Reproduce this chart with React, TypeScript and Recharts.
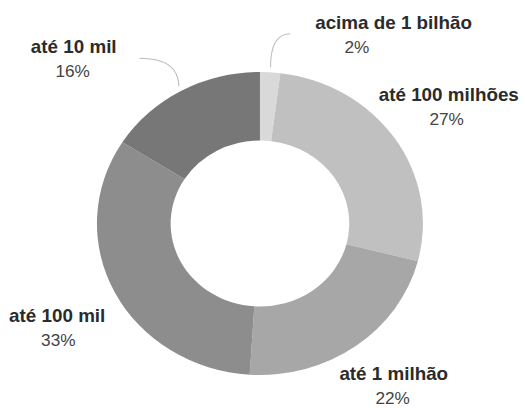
import React from 'react';
import { PieChart, Pie, Cell } from 'recharts';

// faixas de valor e participação (%)
const categories = ['acima de 1 bilhão', 'até 100 milhões', 'até 1 milhão', 'até 100 mil', 'até 10 mil'];
const shares = [2, 27, 22, 33, 16];
const colors = ['#d9d9d9', '#c0c0c0', '#a7a7a7', '#8d8d8d', '#777777'];

// posição dos rótulos: desvio angular (graus), distância do centro, deslocamento do nome
const labelLayout = [
  { shift: 23.5, dist: 198, nameDx: 34, line: true },
  { shift: 3.4, dist: 202, nameDx: 2, line: false },
  { shift: 0.9, dist: 214.5, nameDx: 1, line: false },
  { shift: -5, dist: 221, nameDx: -1, line: false },
  { shift: -20.1, dist: 231, nameDx: 1, line: true },
];

const data = categories.map((name, i) => ({ name, value: shares[i] }));

const FONT = '"Liberation Sans", Arial, sans-serif';
// a imagem original é levemente esticada na horizontal
const STRETCH = 1.076;
const W = 525 / STRETCH;

const polar = (cx: number, cy: number, r: number, clockDeg: number) => {
  const rad = (clockDeg * Math.PI) / 180;
  return { x: cx + r * Math.sin(rad), y: cy - r * Math.cos(rad) };
};

const renderLabel = (props: any) => {
  const { cx, cy, midAngle, index } = props;
  const lay = labelLayout[index];
  const p = polar(cx, cy, lay.dist, 90 - midAngle + lay.shift);
  return (
    <g>
      <text
        x={p.x + lay.nameDx}
        y={p.y - 24.5}
        textAnchor="middle"
        dominantBaseline="central"
        fill="#2b2b2b"
        fontFamily={FONT}
        fontWeight="bold"
        fontSize={17.5}
      >
        {categories[index]}
      </text>
      <text
        x={p.x}
        y={p.y}
        textAnchor="middle"
        dominantBaseline="central"
        fill="#444"
        fontFamily={FONT}
        fontSize={16}
      >
        {`${shares[index]}%`}
      </text>
    </g>
  );
};

const renderLine = (props: any) => {
  const { cx, cy, midAngle, outerRadius, index } = props;
  const lay = labelLayout[index];
  if (!lay.line) return <g />;
  const start = polar(cx, cy, outerRadius + 5, 90 - midAngle);
  const lab = polar(cx, cy, lay.dist, 90 - midAngle + lay.shift);
  const end = { x: lab.x + (lay.shift > 0 ? -62 : 62), y: lab.y - 13.5 };
  return (
    <path
      d={`M${start.x},${start.y} Q${start.x},${end.y} ${end.x},${end.y}`}
      stroke="#bdbdbd"
      strokeWidth={1}
      fill="none"
    />
  );
};

export default function App() {
  return (
    <div
      style={{
        position: 'absolute',
        left: 0,
        top: 0,
        width: W,
        height: 408,
        background: '#fff',
        transform: `scaleX(${STRETCH})`,
        transformOrigin: '0 0',
      }}
    >
      <PieChart width={W} height={408} margin={{ top: 0, right: 0, bottom: 0, left: 0 }}>
        <Pie
          data={data}
          dataKey="value"
          nameKey="name"
          cx={241.6}
          cy={223.5}
          innerRadius={83}
          outerRadius={151.5}
          startAngle={90}
          endAngle={-270}
          stroke="none"
          label={renderLabel}
          labelLine={renderLine}
          isAnimationActive={false}
        >
          {data.map((d, i) => (
            <Cell key={d.name} fill={colors[i]} />
          ))}
        </Pie>
      </PieChart>
    </div>
  );
}
